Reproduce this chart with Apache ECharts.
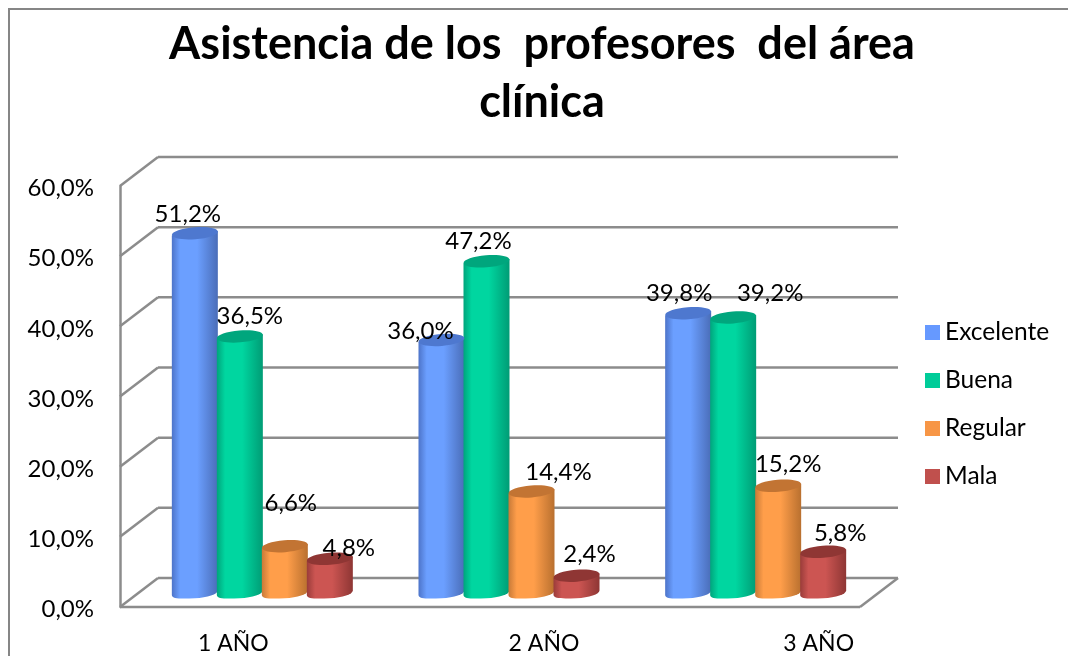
<!DOCTYPE html>
<html><head><meta charset="utf-8">
<style>html,body{margin:0;padding:0;background:#fff}#c{width:1068px;height:656px}</style>
<script src="https://cdn.jsdelivr.net/npm/echarts@6/dist/echarts.min.js"></script>
</head><body><div id="c"></div>
<script>
const titleLines = ['Asistencia de los  profesores  del área', 'clínica'];
const categories = ['1 AÑO', '2 AÑO', '3 AÑO'];
const excelente = [51.2, 36.0, 39.8];
const buena = [36.5, 47.2, 39.2];
const regular = [6.6, 14.4, 15.2];
const mala = [4.8, 2.4, 5.8];
const yTicks = [0, 10, 20, 30, 40, 50, 60];

const seriesNames = ['Excelente', 'Buena', 'Regular', 'Mala'];
const seriesValues = [excelente, buena, regular, mala];
const faceColors = [
  {edgeL:'#4d74c9', mid:'#6b9fff', edgeR:'#4a6db8', top:'#4e78cf', legend:'#6699ff'},
  {edgeL:'#00a57c', mid:'#00d6a0', edgeR:'#009c75', top:'#00a67d', legend:'#00cc99'},
  {edgeL:'#c87a38', mid:'#ff9e4a', edgeR:'#b9702f', top:'#c27433', legend:'#f79646'},
  {edgeL:'#9a3c3a', mid:'#cc5552', edgeR:'#8e3634', top:'#8f3634', legend:'#c0504d'}
];
// hand-placed data label nudges in the source chart [dx, dy] from cylinder top
const labelNudge = [
  [[-7,-19],[-21,-9],[-9,-20]],
  [[10,-20],[-8,-20],[37,-24]],
  [[6,-43],[27,-19],[10,-22]],
  [[19,-11],[13,-21],[17,-19]]
];
// per-category shift of the axis label, in px of padding
const xLabelPad = [[0,20,0,0],[0,0,0,108],[0,0,0,164]];

const DEPTH_X = 38, DEPTH_Y = -29, BAR_W = 46, BAR_STEP = 45, RY = 6;
const FONT = 'Lato, "Open Sans", sans-serif';
const fmt = v => v.toFixed(1).replace('.', ',') + '%';

function wallItem(params, api) {
  const v = api.value(0);
  const cs = params.coordSys;
  const p = api.coord([0, v]);
  const x0 = cs.x, x1 = cs.x + cs.width, y = p[1];
  const line = (a,b,c,d) => ({type:'line', shape:{x1:a,y1:b,x2:c,y2:d}, style:{stroke:'#8c8c8c', lineWidth:2.5, fill:null}});
  const kids = [line(x0, y, x0+DEPTH_X, y+DEPTH_Y), line(x0+DEPTH_X, y+DEPTH_Y, x1+DEPTH_X, y+DEPTH_Y)];
  if (v === 0) { kids.push(line(x0, y, x1, y)); kids.push(line(x1, y, x1+DEPTH_X, y+DEPTH_Y)); }
  return {type:'group', children:kids};
}

function cylinderItem(si) {
  return function (params, api) {
    const cat = api.value(0), val = api.value(1);
    const c = faceColors[si];
    const top = api.coord([cat, val]);
    const base = api.coord([cat, 0]);
    const cx = top[0] + (si - 1.5) * BAR_STEP + DEPTH_X / 2;
    const yt = top[1] + DEPTH_Y / 2, yb = base[1] + DEPTH_Y / 2;
    const r = BAR_W / 2, tilt = 2.2, k = r * 0.55;
    const d = `M${cx-r} ${yt+tilt} L${cx-r} ${yb+tilt} C${cx-r} ${yb+tilt+RY*0.7} ${cx-k} ${yb+RY} ${cx} ${yb+RY-0.5} C${cx+k} ${yb+RY-1} ${cx+r} ${yb-tilt+RY*0.6} ${cx+r} ${yb-tilt} L${cx+r} ${yt-tilt} Z`;
    const n = labelNudge[si][cat];
    return {type:'group', children:[
      {type:'path', shape:{pathData:d, layout:'cover', x:cx-r, y:yt-tilt, width:BAR_W, height:yb+RY-yt+tilt},
        style:{fill:{type:'linear', x:0, y:0, x2:1, y2:0, colorStops:[
          {offset:0, color:c.edgeL},{offset:0.18, color:c.mid},{offset:0.55, color:c.mid},{offset:1, color:c.edgeR}]}}},
      {type:'ellipse', shape:{cx:cx, cy:yt, rx:r, ry:RY}, rotation:0.08, originX:cx, originY:yt, style:{fill:c.top}, z2:1},
      {type:'text', z2:100, style:{text:fmt(val), x:cx+n[0], y:yt+n[1], fill:'#000', font:'24px '+FONT, align:'center', verticalAlign:'middle'}}
    ]};
  };
}

const chart = echarts.init(document.getElementById('c'), null, {renderer:'canvas'});
chart.setOption({
  animation:false,
  backgroundColor:'#fff',
  title:{text:titleLines.join('\n'), left:537, top:10, textAlign:'center',
    textStyle:{fontFamily:FONT, fontSize:45, fontWeight:'bold', color:'#000', lineHeight:58}},
  legend:{orient:'vertical', left:925, top:320, padding:0, itemWidth:15, itemHeight:15, itemGap:23, icon:'rect',
    data:seriesNames, selectedMode:false, textStyle:{fontFamily:FONT, fontSize:24.5, color:'#000'}},
  grid:{left:120, top:186, width:740, height:421},
  xAxis:{type:'category', data:categories, axisTick:{show:false},
    axisLine:{show:false},
    axisLabel:{margin:25, interval:0, color:'#000', fontFamily:FONT, fontSize:23,
      formatter:(v,i)=>`{c${i}|${v}}`,
      rich:{c0:{padding:xLabelPad[0],fontFamily:FONT,fontSize:23},c1:{padding:xLabelPad[1],fontFamily:FONT,fontSize:23},c2:{padding:xLabelPad[2],fontFamily:FONT,fontSize:23}}}},
  yAxis:{type:'value', min:0, max:60, interval:10,
    axisLine:{show:true, lineStyle:{color:'#8c8c8c', width:2.5}}, axisTick:{show:false}, splitLine:{show:false},
    axisLabel:{margin:26, color:'#000', fontFamily:FONT, fontSize:24, formatter:v=>`{t|${fmt(v)}}`,
      rich:{t:{padding:[5,0,0,0],fontFamily:FONT,fontSize:24,color:'#000'}}}},
  graphic:[{type:'polyline', silent:true, z:-1, shape:{points:[[9,700],[9,9],[1100,9]]}, style:{stroke:'#868686', lineWidth:2, fill:null}}],
  series:[
    {type:'custom', name:'_walls', silent:true, data:yTicks.map(v=>[v]), encode:{y:0}, renderItem:wallItem, clip:false},
    ...seriesNames.map((name,si)=>({
      type:'custom', name, silent:true, clip:false,
      itemStyle:{color:faceColors[si].legend},
      data:seriesValues[si].map((v,i)=>[i,v]), encode:{x:0,y:1}, renderItem:cylinderItem(si)
    }))
  ]
});
</script></body></html>
